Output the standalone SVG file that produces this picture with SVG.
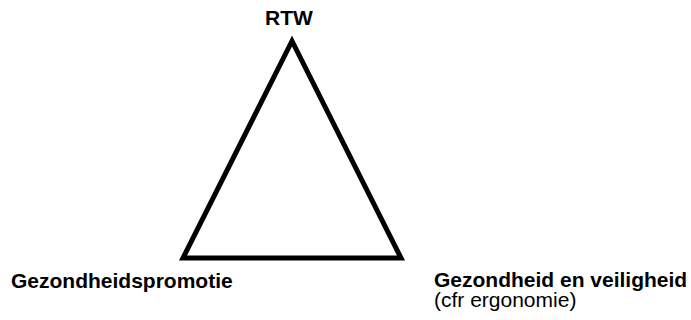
<svg xmlns="http://www.w3.org/2000/svg" width="691" height="320" viewBox="0 0 691 320">
<style>
text{font-family:"Liberation Sans",Arial,sans-serif;fill:#000;font-size:21px}
.b{font-weight:bold}
</style>
<rect width="691" height="320" fill="#fff"/>
<g id="connectors">
<polygon points="292,41 183,258 401,258" fill="none" stroke="#000" stroke-width="5" stroke-linejoin="miter" stroke-miterlimit="10"/>
</g>
<g id="rtw"><text class="b" x="289" y="25" text-anchor="middle">RTW</text></g>
<g id="gp"><text class="b" x="11" y="288">Gezondheidspromotie</text></g>
<g id="gv"><text class="b" x="434" y="287">Gezondheid en veiligheid</text><text x="434" y="307">(cfr ergonomie)</text></g>
</svg>
